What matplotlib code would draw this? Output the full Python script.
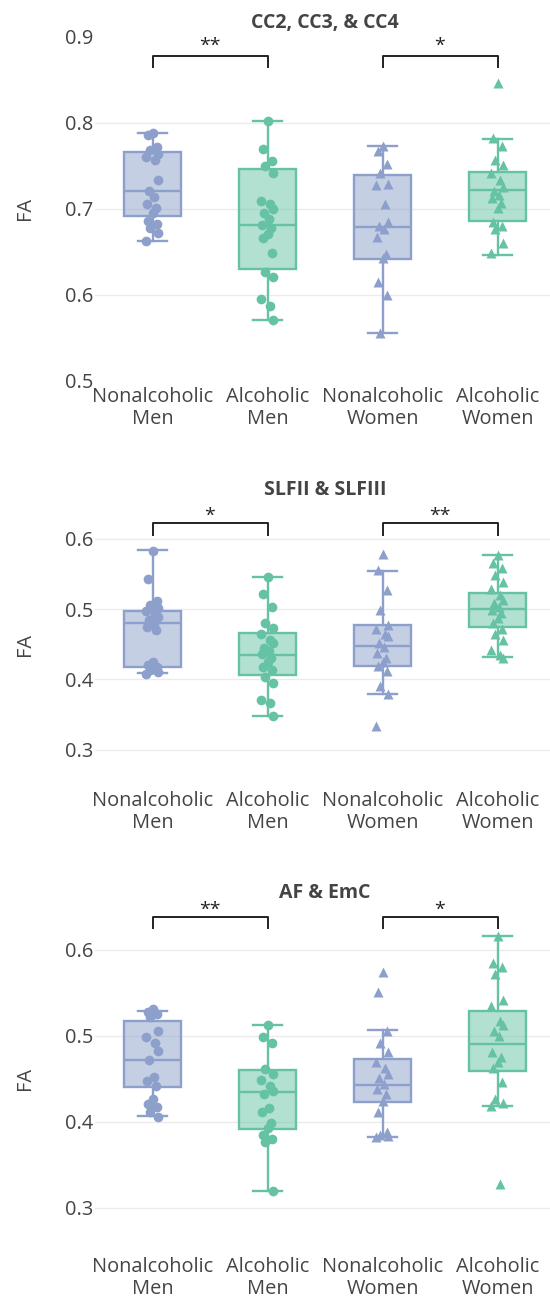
import matplotlib
matplotlib.use("Agg")
import matplotlib.pyplot as plt
import matplotlib.transforms as mtransforms
import numpy as np

plt.rcParams["font.family"] = ["Open Sans", "DejaVu Sans"]

groups = ["Nonalcoholic\nMen", "Alcoholic\nMen", "Nonalcoholic\nWomen", "Alcoholic\nWomen"]
titles = ["CC2, CC3, & CC4", "SLFII & SLFIII", "AF & EmC"]
stars = [["**", "*"], ["*", "**"], ["**", "*"]]

# FA values per group: NM, AM, NW, AW
cc_nm = [0.788, 0.786, 0.772, 0.768, 0.764, 0.760, 0.757, 0.733, 0.721, 0.714,
         0.706, 0.701, 0.695, 0.686, 0.682, 0.678, 0.672, 0.662]
cc_am = [0.802, 0.769, 0.755, 0.750, 0.742, 0.709, 0.705, 0.700, 0.695, 0.688,
         0.681, 0.677, 0.671, 0.666, 0.649, 0.626, 0.620, 0.595, 0.587, 0.570]
cc_nw = [0.773, 0.767, 0.752, 0.742, 0.729, 0.727, 0.705, 0.684, 0.680, 0.676,
         0.667, 0.647, 0.643, 0.615, 0.600, 0.556]
cc_aw = [0.846, 0.782, 0.773, 0.757, 0.751, 0.742, 0.733, 0.725, 0.720, 0.716,
         0.713, 0.707, 0.701, 0.684, 0.680, 0.676, 0.660, 0.648]

slf_nm = [0.583, 0.543, 0.512, 0.506, 0.501, 0.497, 0.493, 0.489, 0.484, 0.479,
          0.475, 0.470, 0.425, 0.421, 0.418, 0.414, 0.411, 0.408]
slf_am = [0.545, 0.521, 0.503, 0.480, 0.473, 0.465, 0.456, 0.451, 0.445, 0.440,
          0.436, 0.430, 0.424, 0.418, 0.413, 0.404, 0.395, 0.371, 0.366, 0.348]
slf_nw = [0.578, 0.555, 0.527, 0.499, 0.477, 0.472, 0.464, 0.461, 0.452, 0.446,
          0.438, 0.431, 0.424, 0.419, 0.412, 0.390, 0.379, 0.333]
slf_aw = [0.577, 0.565, 0.558, 0.548, 0.539, 0.529, 0.520, 0.513, 0.508, 0.503,
          0.499, 0.494, 0.487, 0.480, 0.472, 0.465, 0.456, 0.442, 0.435, 0.431]

af_nm = [0.531, 0.528, 0.525, 0.522, 0.505, 0.498, 0.491, 0.482, 0.472, 0.452,
         0.447, 0.441, 0.426, 0.421, 0.417, 0.411, 0.406]
af_am = [0.513, 0.498, 0.492, 0.461, 0.456, 0.449, 0.441, 0.436, 0.432, 0.416,
         0.411, 0.398, 0.393, 0.385, 0.380, 0.376, 0.319]
af_nw = [0.574, 0.551, 0.506, 0.492, 0.481, 0.469, 0.463, 0.455, 0.451, 0.444,
         0.438, 0.432, 0.424, 0.411, 0.388, 0.385, 0.383, 0.382]
af_aw = [0.616, 0.585, 0.580, 0.572, 0.541, 0.535, 0.517, 0.512, 0.506, 0.500,
         0.481, 0.475, 0.469, 0.463, 0.446, 0.426, 0.422, 0.418, 0.328]

# box summaries: lower whisker, Q1, median, Q3, upper whisker
cc_box = [[0.662, 0.692, 0.7205, 0.7655, 0.788],
          [0.570, 0.6295, 0.681, 0.746, 0.802],
          [0.555, 0.642, 0.679, 0.739, 0.773],
          [0.646, 0.686, 0.7217, 0.743, 0.781]]
slf_box = [[0.4085, 0.417, 0.4806, 0.4976, 0.584],
           [0.348, 0.406, 0.4346, 0.4654, 0.545],
           [0.3786, 0.4194, 0.4478, 0.4772, 0.5545],
           [0.4312, 0.474, 0.4995, 0.5223, 0.5768]]
af_box = [[0.4062, 0.440, 0.4721, 0.5167, 0.529],
          [0.319, 0.3915, 0.4341, 0.460, 0.5124],
          [0.3826, 0.4225, 0.443, 0.4729, 0.5066],
          [0.4178, 0.4593, 0.4903, 0.529, 0.6155]]

points = [[cc_nm, cc_am, cc_nw, cc_aw],
          [slf_nm, slf_am, slf_nw, slf_aw],
          [af_nm, af_am, af_nw, af_aw]]
boxes = [cc_box, slf_box, af_box]

# layout (pixels in a 550x1297 canvas)
W, H = 550, 1297
BLUE = "#8da0cb"
GREEN = "#66c2a5"
colors = [BLUE, GREEN, BLUE, GREEN]
markers = ["o", "o", "^", "^"]
ylims = [(0.5, 0.9), (0.25, 0.65), (0.25, 0.65)]
yticks = [[0.5, 0.6, 0.7, 0.8, 0.9], [0.3, 0.4, 0.5, 0.6], [0.3, 0.4, 0.5, 0.6]]
ax_px = [(36.7, 380.7), (503.6, 784.8), (906.7, 1250.7)]
title_py = [23.3, 490.0, 893.3]
bracket_py = [55.5, 523.3, 916.7]
star_py = [46.0, 516.0, 909.5]
JITTER = np.array([0.0, -0.04, 0.035, -0.02, 0.05, -0.055, 0.02, 0.045, -0.03, 0.01, -0.05, 0.03])

fig = plt.figure(figsize=(W / 100, H / 100), dpi=100)
TXT = "#444444"

for p in range(3):
    top, bot = ax_px[p]
    ax = fig.add_axes([95 / W, 1 - bot / H, 460 / W, (bot - top) / H])
    stats = [dict(whislo=b[0], q1=b[1], med=b[2], q3=b[3], whishi=b[4], fliers=[])
             for b in boxes[p]]
    bp = ax.bxp(stats, positions=range(4), widths=0.5, capwidths=0.25,
                patch_artist=True, showfliers=False,
                boxprops=dict(linewidth=1.7),
                whiskerprops=dict(linewidth=1.7),
                capprops=dict(linewidth=1.7),
                medianprops=dict(linewidth=1.7))
    for i, c in enumerate(colors):
        rgb = matplotlib.colors.to_rgb(c)
        bp["boxes"][i].set_facecolor(rgb + (0.5,))
        bp["boxes"][i].set_edgecolor(c)
        bp["medians"][i].set_color(c)
        for k in (2 * i, 2 * i + 1):
            bp["whiskers"][k].set_color(c)
            bp["caps"][k].set_color(c)
    for i, vals in enumerate(points[p]):
        vals = np.asarray(vals)
        xs = i + JITTER[np.arange(len(vals)) % len(JITTER)]
        ax.plot(xs, vals, ls="none", marker=markers[i], color=colors[i],
                ms=7 if markers[i] == "o" else 7.5, mec="none", zorder=4, clip_on=False)

    ax.set_xlim(-0.5, 3.5)
    ax.set_ylim(*ylims[p])
    ax.set_yticks(yticks[p])
    ax.set_yticklabels([f"{t:.1f}" for t in yticks[p]])
    ax.set_xticks(range(4))
    ax.set_xticklabels(groups, linespacing=1.13)
    ax.tick_params(length=0, labelsize=14.4, labelcolor=TXT)
    ax.tick_params(axis="y", pad=1.5)
    ax.tick_params(axis="x", pad=4.5)
    for s in ax.spines.values():
        s.set_visible(False)
    ax.grid(axis="y", color="#ebebeb", linewidth=1.0)
    ax.set_axisbelow(True)
    if p == 0:
        gl = ax.yaxis.get_gridlines()
        gl[0].set_visible(False)
        gl[-1].set_visible(False)

    trans = mtransforms.blended_transform_factory(ax.transData, fig.transFigure)
    for k, (a, b) in enumerate([(0, 1), (2, 3)]):
        yb = 1 - bracket_py[p] / H
        yd = 1 - (bracket_py[p] + 11.5) / H
        ax.plot([a, a, b, b], [yd, yb, yb, yd], color="#222222", lw=1.4,
                transform=trans, clip_on=False)
        ax.text((a + b) / 2, 1 - star_py[p] / H, stars[p][k], transform=trans,
                ha="center", va="center", fontsize=14, color="#222222")
    ax.text(1.5, 1 - title_py[p] / H, titles[p], transform=trans, ha="center",
            va="center", fontsize=14, fontweight="bold", color=TXT)
    fig.text(25 / W, 1 - ((top + bot) / 2) / H, "FA", rotation=90, ha="center",
             va="center", fontsize=14.4, color=TXT)

fig.savefig("out.png", dpi=100, facecolor="white")
